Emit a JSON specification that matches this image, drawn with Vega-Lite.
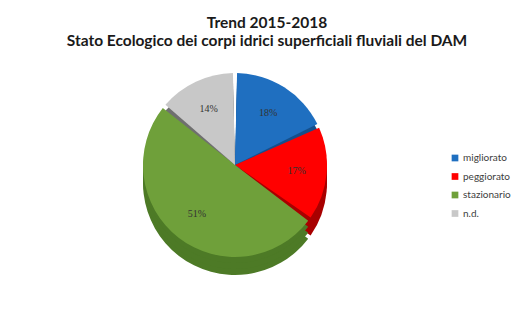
{
  "$schema": "https://vega.github.io/schema/vega-lite/v6.json",
  "autosize": "none",
  "width": 470,
  "height": 220,
  "padding": {"left": 0, "top": 55, "right": 56, "bottom": 45},
  "background": "white",
  "config": {"view": {"stroke": null}},
  "title": {
    "text": ["Trend 2015-2018", "Stato Ecologico dei corpi idrici superficiali fluviali del DAM"],
    "font": "Lato",
    "fontSize": 15.5,
    "fontWeight": "bold",
    "color": "#1a1a1a",
    "lineHeight": 18,
    "anchor": "middle",
    "dx": 32,
    "offset": 6
  },
  "data": {
    "values": [
      {"categoria": "migliorato", "valore": 18, "ord": 1, "etichetta": "18%"},
      {"categoria": "peggiorato", "valore": 17, "ord": 2, "etichetta": "17%"},
      {"categoria": "stazionario", "valore": 51, "ord": 3, "etichetta": "51%"},
      {"categoria": "n.d.", "valore": 14, "ord": 4, "etichetta": "14%"}
    ]
  },
  "encoding": {
    "theta": {"field": "valore", "type": "quantitative", "stack": true},
    "order": {"field": "ord", "type": "quantitative"}
  },
  "layer": [
    {
      "mark": {"type": "arc", "outerRadius": 92, "yOffset": 18, "padAngle": 0.045},
      "encoding": {
        "color": {"field": "categoria", "type": "nominal", "legend": null,
          "scale": {"domain": ["migliorato", "peggiorato", "stazionario", "n.d."], "range": ["#154f8c", "#a80000", "#4d7a26", "#6f6f6f"]}}
      }
    },
    {
      "mark": {"type": "arc", "outerRadius": 92, "yOffset": 12, "padAngle": 0.045},
      "encoding": {
        "color": {"field": "categoria", "type": "nominal", "legend": null,
          "scale": {"domain": ["migliorato", "peggiorato", "stazionario", "n.d."], "range": ["#154f8c", "#a80000", "#4d7a26", "#6f6f6f"]}}
      }
    },
    {
      "mark": {"type": "arc", "outerRadius": 92, "yOffset": 6, "padAngle": 0.045},
      "encoding": {
        "color": {"field": "categoria", "type": "nominal", "legend": null,
          "scale": {"domain": ["migliorato", "peggiorato", "stazionario", "n.d."], "range": ["#154f8c", "#a80000", "#4d7a26", "#6f6f6f"]}}
      }
    },
    {
      "mark": {"type": "arc", "outerRadius": 92, "padAngle": 0.045},
      "encoding": {
        "color": {"field": "categoria", "type": "nominal",
          "scale": {"domain": ["migliorato", "peggiorato", "stazionario", "n.d."], "range": ["#1f6fc0", "#ff0000", "#6fa03a", "#c8c8c8"]},
          "legend": {
            "title": null,
            "orient": "none",
            "legendX": 450,
            "legendY": 98,
            "symbolType": "square",
            "symbolSize": 45,
            "symbolStrokeWidth": 0,
            "labelFont": "Lato",
            "labelFontSize": 10,
            "labelColor": "#404040",
            "rowPadding": 8.5,
            "labelOffset": 3
          }
        }
      }
    },
    {
      "mark": {"type": "text", "radius": 62, "font": "Liberation Serif", "fontSize": 10, "color": "#333333"},
      "encoding": {
        "text": {"field": "etichetta", "type": "nominal"}
      }
    }
  ],
  "resolve": {"scale": {"color": "independent"}}
}
